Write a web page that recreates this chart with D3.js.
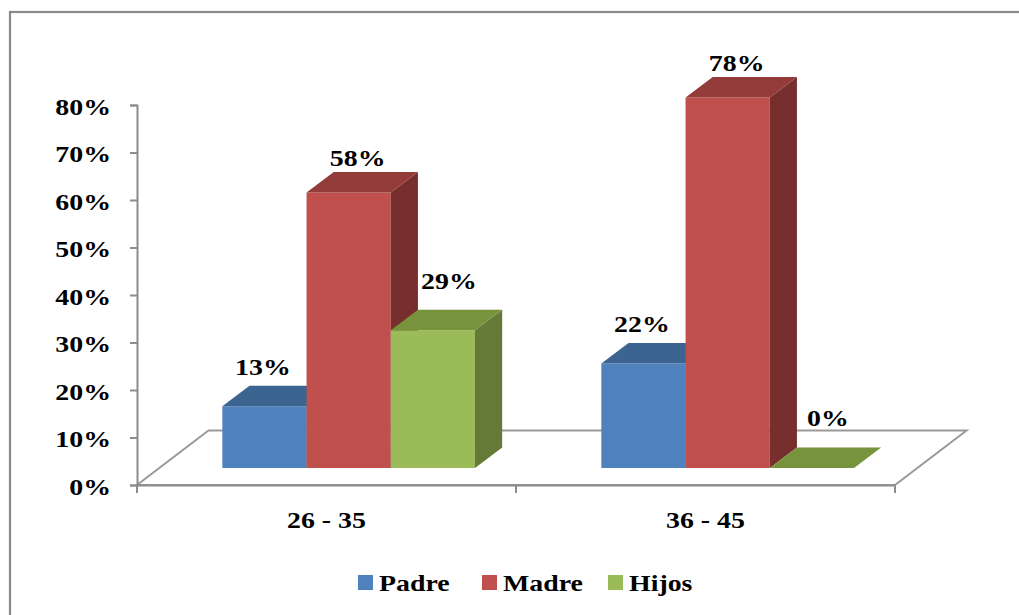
<!DOCTYPE html>
<html>
<head>
<meta charset="utf-8">
<script src="https://cdn.jsdelivr.net/npm/d3@7"></script>
<style>
  html, body { margin: 0; padding: 0; background: #fff; }
  svg { display: block; }
</style>
</head>
<body>
<svg id="chart" width="1019" height="615"></svg>
<script>
// Age groups and share of each family member
const categories = ["26 - 35", "36 - 45"];
const seriesNames = ["Padre", "Madre", "Hijos"];
const padre = [0.13, 0.22];
const madre = [0.58, 0.78];
const hijos = [0.29, 0.00];
const yTicks = [0, 0.1, 0.2, 0.3, 0.4, 0.5, 0.6, 0.7, 0.8];

const seriesValues = [padre, madre, hijos];

// Face shades for each series: front, top, side
const palette = {
  Padre: { front: "#4F81BD", top: "#3C6491", side: "#385D8A" },
  Madre: { front: "#C0504D", top: "#943C3A", side: "#772F2E" },
  Hijos: { front: "#9BBB59", top: "#77933C", side: "#667A38" }
};

// Value label placement per series (horizontal shift, lift above the bar top)
const labelShift = { Padre: -1.5, Madre: 9, Hijos: 16 };
const labelLift = { Padre: 11, Madre: 6, Hijos: 21 };

const svg = d3.select("#chart");
const gridColor = "#8c8c8c";
const stretch = 1.16;   // horizontal stretch of all labels
const fontSize = 24;
const fontFamily = '"Liberation Serif", "Times New Roman", Times, serif';

// Shared text styling
const styleText = sel => sel
  .style("font-family", fontFamily)
  .style("font-weight", "bold")
  .style("font-size", fontSize + "px")
  .style("fill", "#000");

// Outer frame
svg.append("rect")
  .attr("x", 10).attr("y", 12)
  .attr("width", 1030).attr("height", 640)
  .attr("fill", "none")
  .attr("stroke", "#8a8a8a")
  .attr("stroke-width", 2.2);

// Front plane scales
const y = d3.scaleLinear().domain([0, 0.8]).range([485, 105]);
const x = d3.scaleBand().domain(categories).range([137, 895]).padding(0);
const xs = d3.scaleBand().domain(seriesNames).range([0, x.bandwidth()])
  .paddingInner(0).paddingOuter(0.75);

// Oblique depth direction of the floor (front edge -> back edge)
const depth = { dx: 71.5, dy: -54.5 };
const d0 = 0.31, d1 = 0.69;   // bars occupy the middle of the floor depth

const proj = (px, v, d) => [px + d * depth.dx, y(v) + d * depth.dy];

// Floor outline
const floorPts = [proj(137, 0, 0), proj(895, 0, 0), proj(895, 0, 1), proj(137, 0, 1)];
svg.append("path")
  .attr("d", d3.line()(floorPts) + "Z")
  .attr("fill", "none")
  .attr("stroke", "#9a9a9a")
  .attr("stroke-width", 2);

// Category boundary ticks under the front edge
const bounds = categories.map(c => x(c)).concat([x.range()[1]]);
svg.append("g").selectAll("line").data(bounds).join("line")
  .attr("x1", d => d).attr("x2", d => d)
  .attr("y1", y(0)).attr("y2", y(0) + 8)
  .attr("stroke", gridColor).attr("stroke-width", 2);

// Value axis
const yAxis = svg.append("g")
  .attr("transform", "translate(137,0)")
  .call(d3.axisLeft(y).tickValues(yTicks).tickSize(7).tickFormat(d3.format(".0%")));
yAxis.select(".domain").attr("stroke", gridColor).attr("stroke-width", 2);
yAxis.selectAll(".tick line").attr("stroke", gridColor).attr("stroke-width", 2);
yAxis.selectAll(".tick text").remove();
yAxis.selectAll(".tick").append("text")
  .attr("transform", `translate(-26,9) scale(${stretch},1)`)
  .attr("text-anchor", "end")
  .call(styleText)
  .text(d => d3.format(".0%")(d));

// Category labels
const xAxis = svg.append("g")
  .attr("transform", `translate(0,${y(0)})`)
  .call(d3.axisBottom(x).tickSize(0));
xAxis.select(".domain").attr("stroke", gridColor).attr("stroke-width", 2);
xAxis.selectAll(".tick text").remove();
xAxis.selectAll(".tick").append("text")
  .attr("transform", `translate(0,43) scale(${stretch},1)`)
  .attr("text-anchor", "middle")
  .call(styleText)
  .text(d => d);

// Bars, drawn left to right so each bar hides its left neighbour's side face
const bars = [];
categories.forEach((c, ci) => {
  seriesNames.forEach((s, si) => {
    bars.push({ cat: c, series: s, si, value: seriesValues[si][ci] });
  });
});

const barG = svg.append("g");
bars.forEach(b => {
  const x0 = x(b.cat) + xs(b.series);
  const x1 = x0 + xs.bandwidth();
  const v = b.value;
  const col = palette[b.series];
  const g = barG.append("g");
  const poly = pts => d3.line()(pts) + "Z";
  if (v > 0) {
    // front face
    g.append("path").attr("d", poly([proj(x0, 0, d0), proj(x1, 0, d0), proj(x1, v, d0), proj(x0, v, d0)]))
      .attr("fill", col.front);
    // right side face
    g.append("path").attr("d", poly([proj(x1, 0, d0), proj(x1, 0, d1), proj(x1, v, d1), proj(x1, v, d0)]))
      .attr("fill", col.side);
  }
  // top face
  g.append("path").attr("d", poly([proj(x0, v, d0), proj(x1, v, d0), proj(x1, v, d1), proj(x0, v, d1)]))
    .attr("fill", col.top);
});

// Value labels above each bar
const labelG = svg.append("g");
bars.forEach(b => {
  const front = proj(x(b.cat) + xs(b.series) + xs.bandwidth() / 2, b.value, d0);
  const xc = front[0] + labelShift[b.series];
  const yTop = proj(0, b.value, d1)[1];
  labelG.append("text")
    .attr("transform", `translate(${xc},${yTop - labelLift[b.series]}) scale(${stretch},1)`)
    .attr("text-anchor", "middle")
    .call(styleText)
    .text(d3.format(".0%")(b.value));
});

// Legend
const legendX = [358, 482, 608];
const legend = svg.append("g").selectAll("g").data(seriesNames).join("g")
  .attr("transform", (d, i) => `translate(${legendX[i]},575)`);
legend.append("rect")
  .attr("width", 15).attr("height", 15)
  .attr("fill", d => palette[d].front);
legend.append("text")
  .attr("transform", `translate(21,16) scale(${stretch},1)`)
  .call(styleText)
  .text(d => d);
</script>
</body>
</html>
